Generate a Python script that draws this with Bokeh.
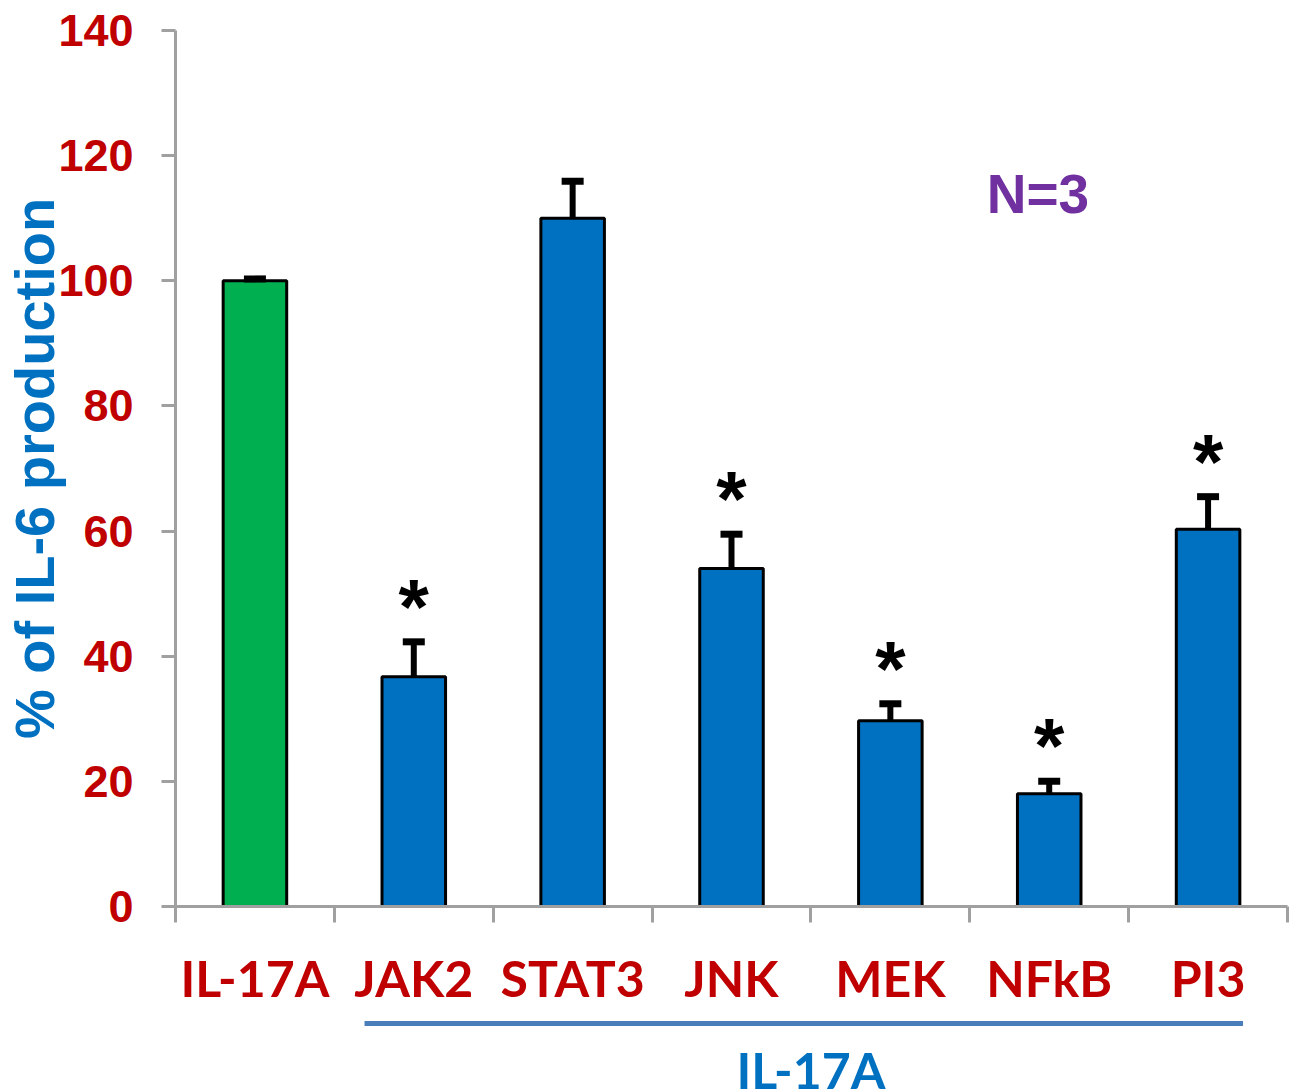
from bokeh.plotting import figure
from bokeh.models import Range1d, FixedTicker, ColumnDataSource, Whisker, TeeHead, Label
from bokeh.layouts import column
from bokeh.embed import file_html
from bokeh.resources import INLINE
from bokeh.core.properties import value

# ---- data ----
categories = ["IL-17A", "JAK2", "STAT3", "JNK", "MEK", "NFkB", "PI3"]
means = [100.0, 36.7, 110.0, 54.0, 29.7, 18.0, 60.3]
errors = [0.3, 5.6, 5.9, 5.5, 2.7, 2.0, 5.2]
significance = ["", "*", "", "*", "*", "*", "*"]
bar_colors = ["#00B050", "#0070C0", "#0070C0", "#0070C0", "#0070C0", "#0070C0", "#0070C0"]
y_ticks = [0, 20, 40, 60, 80, 100, 120, 140]
group_label = "IL-17A"
group_members = ["JAK2", "STAT3", "JNK", "MEK", "NFkB", "PI3"]
n_text = "N=3"

RED = "#C00000"
BLUE = "#0070C0"
GREY = "#A0A0A0"
W = 1290

xs = [i + 0.5 for i in range(len(categories))]
src = ColumnDataSource(dict(
    x=xs, top=means, color=bar_colors,
    lower=means, upper=[m + e for m, e in zip(means, errors)],
    star=significance,
))

p = figure(width=W, height=1010, x_range=Range1d(0, len(categories)), y_range=Range1d(0, 140),
           output_backend="svg", toolbar_location=None,
           min_border_left=174, min_border_right=3, min_border_top=30, min_border_bottom=104)
p.xgrid.visible = False
p.ygrid.visible = False
p.outline_line_color = None
p.background_fill_color = "white"
p.border_fill_color = "white"

# x axis
xa = p.xaxis[0]
xa.ticker = FixedTicker(ticks=xs, minor_ticks=list(range(len(categories) + 1)))
xa.major_label_overrides = {x: c for x, c in zip(xs, categories)}
xa.major_tick_line_color = None
xa.major_tick_out = 16
xa.major_tick_in = 0
xa.minor_tick_out = 16
xa.minor_tick_in = 0
xa.minor_tick_line_color = GREY
xa.minor_tick_line_width = 3
xa.axis_line_color = GREY
xa.axis_line_width = 3
xa.major_label_text_font = "Lato"
xa.major_label_text_font_style = "bold"
xa.major_label_text_font_size = "50px"
xa.major_label_text_color = RED
xa.major_label_standoff = 25

# y axis
ya = p.yaxis[0]
ya.ticker = FixedTicker(ticks=y_ticks, minor_ticks=[])
ya.major_tick_out = 14
ya.major_tick_in = 0
ya.major_tick_line_color = GREY
ya.major_tick_line_width = 3
ya.axis_line_color = GREY
ya.axis_line_width = 3
ya.major_label_text_font = "Liberation Sans"
ya.major_label_text_font_style = "bold"
ya.major_label_text_font_size = "45px"
ya.major_label_text_color = RED
ya.major_label_standoff = 28
ya.axis_label = "% of IL-6 production"
ya.axis_label_text_font = "Liberation Sans"
ya.axis_label_text_font_style = "bold"
ya.axis_label_text_font_size = "56px"
ya.axis_label_text_color = BLUE
ya.axis_label_standoff = -11

# bars
p.vbar(x="x", top="top", width=0.4, fill_color="color", line_color="black", line_width=3, source=src)

# error bars (upper only)
wh = Whisker(base="x", upper="upper", lower="lower", source=src, dimension="height",
             line_color="black", line_width=6, level="overlay",
             upper_head=TeeHead(size=22, line_width=7, line_color="black"), lower_head=None)
p.add_layout(wh)

# significance stars
p.text(x="x", y="upper", text="star", source=src, text_font=value("Liberation Sans"),
       text_font_style="bold", text_font_size="78px", text_align="center",
       text_baseline="alphabetic", y_offset=-35, text_color="black")

# N=3
p.add_layout(Label(x=5.107, y=113.8, text=n_text, text_font="Liberation Sans", text_font_style="bold",
                   text_font_size="55px", text_color="#7030A0", text_align="left",
                   text_baseline="alphabetic"))

# group bracket below
q = figure(width=W, height=81, x_range=p.x_range, y_range=Range1d(0, 81),
           output_backend="svg", toolbar_location=None, x_axis_type=None, y_axis_type=None,
           min_border_left=174, min_border_right=3, min_border_top=0, min_border_bottom=0)
q.xgrid.visible = False
q.ygrid.visible = False
q.outline_line_color = None
first = categories.index(group_members[0])
last = categories.index(group_members[-1])
q.segment(x0=[first + 0.19], y0=[68], x1=[last + 0.72], y1=[68], line_width=5, line_color="#4A7EBB")
q.text(x=[(first + last + 1) / 2], y=[22], text=[group_label], text_font=value("Lato"),
       text_font_style="bold", text_font_size="50px", text_color=BLUE, text_align="center",
       text_baseline="alphabetic")

layout = column(p, q, spacing=0)
open("out.html", "w").write(file_html(layout, INLINE))
